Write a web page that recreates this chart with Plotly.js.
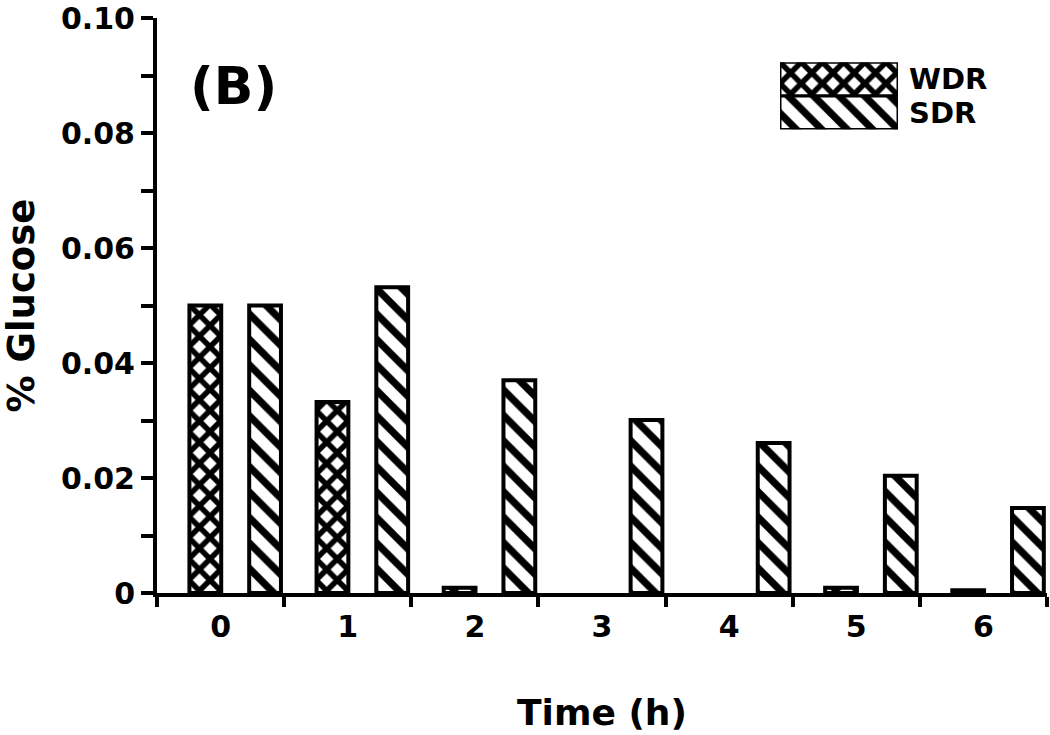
<!DOCTYPE html>
<html>
<head>
<meta charset="utf-8">
<script src="https://cdn.plot.ly/plotly-3.0.1.min.js"></script>
<style>
  html, body { margin: 0; padding: 0; background: #fff; }
  #chart { width: 1050px; height: 735px; }
</style>
</head>
<body>
<div id="chart"></div>
<script>
const timeLabels = ["0", "1", "2", "3", "4", "5", "6"];
// no WDR bar was drawn at 3 h and 4 h
const wdrValues = [0.050, 0.0332, 0.0009, null, null, 0.0009, 0.0005];
const sdrValues = [0.050, 0.0532, 0.0370, 0.0301, 0.0261, 0.0204, 0.0148];
const yTickVals = [0, 0.02, 0.04, 0.06, 0.08, 0.1];
const yTickText = ["0", "0.02", "0.04", "0.06", "0.08", "0.10"];
const legendNames = ["WDR", "SDR"];
const legendFill = [1];

const FONT = "DejaVu Sans, Liberation Sans, Arial, sans-serif";

const wdrPattern = { shape: "x", size: 15, solidity: 0.6, fgcolor: "#000", bgcolor: "#fff", fillmode: "replace" };
const sdrPattern = { shape: "\\", size: 18, solidity: 0.4, fgcolor: "#000", bgcolor: "#fff", fillmode: "replace" };

const traces = [
  {
    type: "bar",
    name: "WDR",
    x: timeLabels,
    y: wdrValues,
    offset: -0.245,
    width: 0.25,
    marker: { color: "#fff", pattern: wdrPattern, line: { color: "#000", width: 4 } },
    showlegend: false,
    hoverinfo: "skip",
  },
  {
    type: "bar",
    name: "SDR",
    x: timeLabels,
    y: sdrValues,
    offset: 0.225,
    width: 0.25,
    marker: { color: "#fff", pattern: sdrPattern, line: { color: "#000", width: 4 } },
    showlegend: false,
    hoverinfo: "skip",
  },
  // inset legend boxes
  {
    type: "bar",
    orientation: "h",
    x: legendFill,
    y: [legendNames[0]],
    offset: -0.5,
    width: 1,
    xaxis: "x2",
    yaxis: "y2",
    marker: { color: "#fff", pattern: wdrPattern, line: { color: "#000", width: 3 } },
    showlegend: false,
    hoverinfo: "skip",
  },
  {
    type: "bar",
    orientation: "h",
    x: legendFill,
    y: [legendNames[1]],
    offset: -0.5,
    width: 1,
    xaxis: "x2",
    yaxis: "y2",
    marker: { color: "#fff", pattern: sdrPattern, line: { color: "#000", width: 3 } },
    showlegend: false,
    hoverinfo: "skip",
  },
];

const layout = {
  width: 1050,
  height: 735,
  margin: { l: 157, r: 3, t: 18, b: 142 },
  paper_bgcolor: "#fff",
  plot_bgcolor: "#fff",
  showlegend: false,
  font: { family: FONT, color: "#000", weight: 700 },
  xaxis: {
    type: "category",
    range: [-0.5, 6.5],
    tickson: "boundaries",
    ticks: "outside",
    ticklen: 10,
    tickwidth: 4,
    tickcolor: "#000",
    ticklabelstandoff: 4,
    showline: true,
    linewidth: 4,
    linecolor: "#000",
    showgrid: false,
    zeroline: false,
    tickfont: { size: 30, family: FONT, weight: 700 },
    title: { text: "Time (h)", font: { size: 36, family: FONT, weight: 700 }, standoff: 58 },
  },
  yaxis: {
    range: [0, 0.10001],
    tickmode: "array",
    tickvals: yTickVals,
    ticktext: yTickText,
    ticklabeloverflow: "allow",
    ticks: "outside",
    ticklen: 12,
    tickwidth: 4,
    tickcolor: "#000",
    minor: { dtick: 0.01, ticks: "outside", ticklen: 12, tickwidth: 4, tickcolor: "#000", showgrid: false },
    showline: true,
    linewidth: 4,
    linecolor: "#000",
    showgrid: false,
    zeroline: false,
    tickfont: { size: 30, family: FONT, weight: 700 },
    title: { text: "% Glucose", font: { size: 37, family: FONT, weight: 700 }, standoff: 22 },
  },
  xaxis2: {
    domain: [0.70, 0.8326],
    anchor: "y2",
    range: [0, 1],
    visible: false,
    fixedrange: true,
  },
  yaxis2: {
    domain: [0.806, 0.923],
    anchor: "x2",
    type: "category",
    categoryorder: "array",
    categoryarray: legendNames.slice().reverse(),
    tickmode: "array",
    tickvals: legendNames,
    ticktext: legendNames,
    side: "right",
    ticks: "",
    showline: false,
    showgrid: false,
    zeroline: false,
    ticklabelstandoff: 10,
    ticklabeloverflow: "allow",
    tickfont: { size: 29, family: FONT, weight: 700 },
    fixedrange: true,
  },
  annotations: [
    {
      text: "(B)",
      xref: "paper",
      yref: "paper",
      x: 0.0854,
      y: 0.882,
      xanchor: "center",
      yanchor: "middle",
      showarrow: false,
      font: { size: 52, family: FONT, weight: 700, color: "#000" },
    },
  ],
};

Plotly.newPlot("chart", traces, layout, { staticPlot: true, displayModeBar: false });
</script>
</body>
</html>
